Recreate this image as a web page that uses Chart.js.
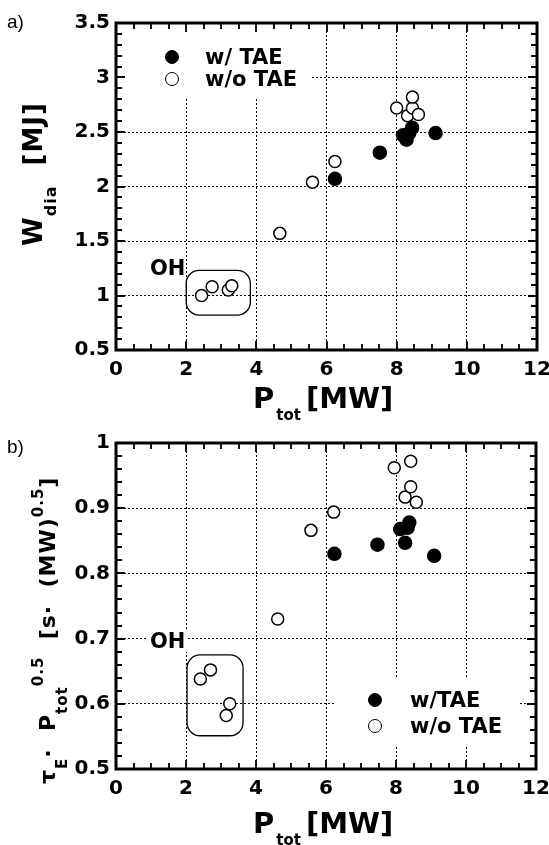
<!DOCTYPE html>
<html>
<head>
<meta charset="utf-8">
<script src="https://cdn.jsdelivr.net/npm/chart.js@4.4.1/dist/chart.umd.min.js"></script>
<style>
body { margin: 0; background: #fff; width: 549px; height: 845px; position: relative; overflow: hidden; }
canvas { position: absolute; left: 0; }
.t { position: absolute; white-space: nowrap; line-height: 1; color: #000; font-family: "DejaVu Sans", sans-serif; font-weight: bold; }
.tag { position: absolute; font-family: "Liberation Sans", Arial, sans-serif; font-size: 19px; line-height: 1; }
.rot { transform-origin: 0 0; transform: rotate(-90deg); }
.sb { position: relative; }
.dot { position: absolute; width: 14px; height: 14px; border-radius: 50%; box-sizing: border-box; border: 1.5px solid #000; transform: translate(-50%, -50%); }
</style>
</head>
<body>
<canvas id="chartA" width="549" height="422" style="top:0"></canvas>
<canvas id="chartB" width="549" height="423" style="top:422px"></canvas>

<div class="tag" style="left:7px;top:12px">a)</div>
<div class="tag" style="left:7px;top:437px">b)</div>

<!-- panel a labels -->
<div class="t rot" style="left:20px;top:246px;font-size:26px;letter-spacing:1px">W<span class="sb" style="font-size:16px;top:14px">dia</span>&nbsp; [MJ]</div>
<div class="t" style="left:253px;top:384px;font-size:29px">P<span class="sb" style="font-size:15px;top:12px;margin:0 5px 0 2px">tot</span>[MW]</div>
<div class="dot" style="left:172px;top:57px;background:#000"></div>
<div class="dot" style="left:172px;top:79px;background:#fff"></div>
<div class="t" style="left:205px;top:47px;font-size:21px">w/ TAE</div>
<div class="t" style="left:205px;top:69px;font-size:21px">w/o TAE</div>
<div class="t" style="left:150px;top:258px;font-size:21px">OH</div>

<!-- panel b labels -->
<div class="t rot" style="left:37px;top:784px;font-size:22px;letter-spacing:1px">τ<span class="sb" style="font-size:15px;top:12px">E</span>·&nbsp; P<span class="sb" style="font-size:15px;top:12px">tot</span><span class="sb" style="font-size:15px;top:-12px">0.5</span>&nbsp; [s·&nbsp; (MW)<span class="sb" style="font-size:15px;top:-12px">0.5</span>]</div>
<div class="t" style="left:253px;top:809px;font-size:29px">P<span class="sb" style="font-size:15px;top:12px;margin:0 5px 0 2px">tot</span>[MW]</div>
<div class="dot" style="left:375px;top:700px;background:#000"></div>
<div class="dot" style="left:375px;top:726px;background:#fff"></div>
<div class="t" style="left:410px;top:690px;font-size:21px">w/TAE</div>
<div class="t" style="left:410px;top:716px;font-size:21px">w/o TAE</div>
<div class="t" style="left:150px;top:631px;font-size:21px;background:#fff;padding:0 2px;margin-left:-2px">OH</div>

<script>
// shared x axis (P_tot, MW)
const xTicks = [0, 2, 4, 6, 8, 10, 12];
const xLabels = ['0', '2', '4', '6', '8', '10', '12'];

// panel a) W_dia [MJ]
const aTicks = [0.5, 1, 1.5, 2, 2.5, 3, 3.5];
const aLabels = ['0.5', '1', '1.5', '2', '2.5', '3', '3.5'];
const aTaeP = [6.24, 7.52, 8.18, 8.28, 8.36, 8.44, 9.11];
const aTaeW = [2.07, 2.31, 2.47, 2.43, 2.49, 2.54, 2.49];
const aNoTaeP = [2.44, 2.74, 3.2, 3.3, 4.67, 5.6, 6.24, 8.0, 8.31, 8.45, 8.45, 8.62];
const aNoTaeW = [1.0, 1.08, 1.05, 1.09, 1.57, 2.04, 2.23, 2.72, 2.65, 2.72, 2.82, 2.66];

// panel b) tau_E * P_tot^0.5
const bTicks = [0.5, 0.6, 0.7, 0.8, 0.9, 1];
const bLabels = ['0.5', '0.6', '0.7', '0.8', '0.9', '1'];
const bTaeP = [6.24, 7.47, 8.12, 8.33, 8.38, 8.26, 9.09];
const bTaeT = [0.830, 0.844, 0.868, 0.870, 0.878, 0.847, 0.827];
const bNoTaeP = [2.41, 2.70, 3.15, 3.25, 4.62, 5.57, 6.22, 7.95, 8.26, 8.42, 8.42, 8.58];
const bNoTaeT = [0.638, 0.652, 0.582, 0.600, 0.730, 0.866, 0.894, 0.962, 0.917, 0.933, 0.972, 0.909];

const tickFont = { family: 'DejaVu Sans', size: 20, weight: 'bold' };

function pts(xs, ys) {
    return xs.map((x, i) => ({ x: x, y: ys[i] }));
}

function steps(min, max, step) {
    const n = Math.round((max - min) / step);
    const out = [];
    for (let i = 0; i <= n; i++) out.push(min + i * step);
    return out;
}

function isMajor(v, list) {
    return list.some(t => Math.abs(t - v) < 1e-6);
}

function makeChart(id, o) {
    const canvas = document.getElementById(id);
    const H = canvas.height;

    // everything here is drawn after the grid and before the points
    const guides = {
        id: 'guides',
        beforeDatasetsDraw(chart) {
            const { ctx, chartArea: a, scales: { x, y } } = chart;
            ctx.save();
            ctx.setLineDash([]);

            // blank area behind the legend (grid is interrupted there)
            ctx.fillStyle = '#fff';
            const c = o.clear;
            const cx0 = x.getPixelForValue(c[0]), cx1 = x.getPixelForValue(c[1]);
            const cy0 = y.getPixelForValue(c[3]), cy1 = y.getPixelForValue(c[2]);
            ctx.fillRect(cx0, cy0, cx1 - cx0, cy1 - cy0);

            // rounded box around the OH points
            const b = o.ohBox;
            const x0 = x.getPixelForValue(b[0]), x1 = x.getPixelForValue(b[1]);
            const y0 = y.getPixelForValue(b[3]), y1 = y.getPixelForValue(b[2]);
            const r = 13;
            ctx.strokeStyle = '#000';
            ctx.lineWidth = 1.3;
            ctx.beginPath();
            ctx.moveTo(x0 + r, y0);
            ctx.arcTo(x1, y0, x1, y1, r);
            ctx.arcTo(x1, y1, x0, y1, r);
            ctx.arcTo(x0, y1, x0, y0, r);
            ctx.arcTo(x0, y0, x1, y0, r);
            ctx.closePath();
            ctx.stroke();

            // inward ticks on all four sides
            ctx.lineWidth = 1.8;
            ctx.beginPath();
            steps(0, 12, o.xMinor).forEach(v => {
                const px = Math.round(x.getPixelForValue(v));
                const len = isMajor(v, xTicks) ? 9 : 6;
                ctx.moveTo(px, a.bottom);
                ctx.lineTo(px, a.bottom - len);
                ctx.moveTo(px, a.top);
                ctx.lineTo(px, a.top + len);
            });
            steps(o.yTicks[0], o.yTicks[o.yTicks.length - 1], o.yMinor).forEach(v => {
                const py = Math.round(y.getPixelForValue(v));
                const len = isMajor(v, o.yTicks) ? 9 : 6;
                ctx.moveTo(a.left, py);
                ctx.lineTo(a.left + len, py);
                ctx.moveTo(a.right, py);
                ctx.lineTo(a.right - len, py);
            });
            ctx.stroke();

            // heavy frame
            ctx.lineWidth = 3;
            ctx.strokeRect(a.left, a.top, a.right - a.left, a.bottom - a.top);
            ctx.restore();
        }
    };

    return new Chart(canvas.getContext('2d'), {
        type: 'scatter',
        data: {
            datasets: [{
                label: 'w/ TAE',
                data: pts(o.taeX, o.taeY),
                pointRadius: 6.5,
                pointBorderWidth: 1.5,
                pointBackgroundColor: '#000',
                pointBorderColor: '#000'
            },
            {
                label: 'w/o TAE',
                data: pts(o.noX, o.noY),
                pointRadius: 6,
                pointBorderWidth: 1.5,
                pointBackgroundColor: '#fff',
                pointBorderColor: '#000'
            }]
        },
        options: {
            responsive: false,
            animation: false,
            layout: { padding: { left: 0, top: o.top, right: o.right, bottom: 0 } },
            plugins: { legend: { display: false }, tooltip: { enabled: false } },
            scales: {
                x: {
                    type: 'linear', min: 0, max: 12,
                    afterBuildTicks: s => { s.ticks = xTicks.map(v => ({ value: v })); },
                    afterFit: s => { s.height = H - o.bottom; s.paddingLeft = 0; s.paddingRight = 0; },
                    ticks: { font: tickFont, color: '#000', padding: 8, maxRotation: 0, autoSkip: false,
                        callback: (v, i) => xLabels[i] },
                    grid: { color: '#000', lineWidth: 1, drawTicks: false },
                    border: { display: false, dash: [2, 2] }
                },
                y: {
                    type: 'linear', min: o.yTicks[0], max: o.yTicks[o.yTicks.length - 1],
                    afterBuildTicks: s => { s.ticks = o.yTicks.map(v => ({ value: v })); },
                    afterFit: s => { s.width = o.left; s.paddingTop = 0; s.paddingBottom = 0; },
                    ticks: { font: tickFont, color: '#000', padding: 6, autoSkip: false,
                        callback: (v, i) => o.yLabels[i] },
                    grid: { color: '#000', lineWidth: 1, drawTicks: false },
                    border: { display: false, dash: [2, 2] }
                }
            }
        },
        plugins: [guides]
    });
}

makeChart('chartA', {
    taeX: aTaeP, taeY: aTaeW, noX: aNoTaeP, noY: aNoTaeW,
    yTicks: aTicks, yLabels: aLabels,
    xMinor: 0.5, yMinor: 0.1,
    left: 116, top: 23, right: 12, bottom: 350,
    clear: [0, 5.55, 2.81, 3.5],
    ohBox: [2.0, 3.83, 0.82, 1.23]
});

makeChart('chartB', {
    taeX: bTaeP, taeY: bTaeT, noX: bNoTaeP, noY: bNoTaeT,
    yTicks: bTicks, yLabels: bLabels,
    xMinor: 0.5, yMinor: 0.02,
    left: 116, top: 21, right: 13, bottom: 347,
    clear: [6.23, 11.49, 0.537, 0.64],
    ohBox: [2.03, 3.63, 0.551, 0.675]
});
</script>
</body>
</html>
